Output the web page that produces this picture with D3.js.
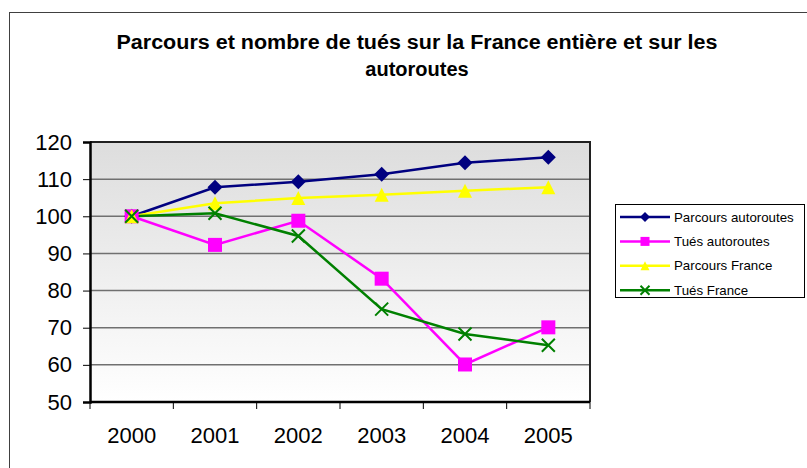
<!DOCTYPE html>
<html>
<head>
<meta charset="utf-8">
<script src="https://cdn.jsdelivr.net/npm/d3@7/dist/d3.min.js"></script>
<style>
  body { margin: 0; background: #fff; }
  svg { display: block; font-family: "Liberation Sans", Arial, sans-serif; }
</style>
</head>
<body>
<div id="container"></div>
<script>
// data
let years = ["2000", "2001", "2002", "2003", "2004", "2005"];
let parcoursAutoroutes = [100, 107.8, 109.3, 111.3, 114.4, 115.9];
let tuesAutoroutes = [100, 92.3, 98.8, 83.2, 60.1, 70.1];
let parcoursFrance = [100, 103.5, 104.9, 105.8, 106.9, 107.8];
let tuesFrance = [100, 100.8, 94.7, 75, 68.3, 65.3];
let yTicks = [50, 60, 70, 80, 90, 100, 110, 120];
let seriesNames = ["Parcours autoroutes", "Tués autoroutes", "Parcours France", "Tués France"];

let w = 807;
let h = 468;
let plotLeft = 90, plotRight = 590, plotTop = 142, plotBottom = 402;

let series = [
  {name: seriesNames[0], values: parcoursAutoroutes, color: "#000080", symbol: "diamond"},
  {name: seriesNames[1], values: tuesAutoroutes, color: "#ff00ff", symbol: "square"},
  {name: seriesNames[2], values: parcoursFrance, color: "#ffff00", symbol: "triangle"},
  {name: seriesNames[3], values: tuesFrance, color: "#008000", symbol: "cross"}
];

let viz = d3.select("#container")
  .append("svg")
    .attr("width", w)
    .attr("height", h)
;

// outer chart frame (only top/left edges visible)
viz.append("rect")
  .attr("x", 9.5).attr("y", 12.5)
  .attr("width", w + 20).attr("height", h + 20)
  .attr("fill", "none").attr("stroke", "#404040").attr("stroke-width", 1);

// title
let title = viz.append("text")
  .attr("text-anchor", "middle")
  .attr("font-weight", "bold")
  .attr("font-size", 20)
  .attr("fill", "#000");
title.append("tspan").attr("x", 417).attr("y", 49).attr("textLength", 601).attr("lengthAdjust", "spacingAndGlyphs")
  .text("Parcours et nombre de tués sur la France entière et sur les");
title.append("tspan").attr("x", 417).attr("y", 76).text("autoroutes");

let xScale = d3.scaleBand()
  .domain(years)
  .range([plotLeft, plotRight]);

let yScale = d3.scaleLinear()
  .domain([50, 120])
  .range([plotBottom, plotTop]);

// plot background gradient
let defs = viz.append("defs");
let grad = defs.append("linearGradient").attr("id", "bg").attr("x1", 0).attr("y1", 0).attr("x2", 0).attr("y2", 1);
grad.append("stop").attr("offset", "0%").attr("stop-color", "#dddddd");
grad.append("stop").attr("offset", "100%").attr("stop-color", "#ffffff");

viz.append("rect")
  .attr("x", plotLeft).attr("y", plotTop)
  .attr("width", plotRight - plotLeft).attr("height", plotBottom - plotTop)
  .attr("fill", "url(#bg)");

// gridlines
viz.append("g").selectAll("line")
  .data(yTicks.slice(1, -1))
  .enter().append("line")
    .attr("x1", plotLeft).attr("x2", plotRight)
    .attr("y1", d => yScale(d)).attr("y2", d => yScale(d))
    .attr("stroke", "#707070").attr("stroke-width", 1.5);

// top and right border
viz.append("path")
  .attr("d", "M" + plotLeft + "," + plotTop + "H" + plotRight + "V" + plotBottom)
  .attr("fill", "none").attr("stroke", "#202020").attr("stroke-width", 2);

// y axis
let yAxis = d3.axisLeft(yScale).tickValues(yTicks).tickSize(7).tickPadding(11);
let yAxisGroup = viz.append("g").attr("transform", "translate(" + plotLeft + ",0)").call(yAxis);
yAxisGroup.select(".domain").attr("stroke-width", 2.5);
yAxisGroup.selectAll("text").attr("font-size", 22).attr("font-family", "Liberation Sans, Arial, sans-serif").attr("fill", "#000");

// x axis: ticks at band boundaries
let xAxisGroup = viz.append("g").attr("transform", "translate(0," + plotBottom + ")");
xAxisGroup.append("line").attr("x1", plotLeft).attr("x2", plotRight).attr("stroke", "#000").attr("stroke-width", 2.5);
xAxisGroup.selectAll(".tk")
  .data(years.concat(["end"]))
  .enter().append("line")
    .attr("x1", (d, i) => plotLeft + i * xScale.bandwidth())
    .attr("x2", (d, i) => plotLeft + i * xScale.bandwidth())
    .attr("y1", 0).attr("y2", 7)
    .attr("stroke", "#000").attr("stroke-width", 1);
xAxisGroup.selectAll(".lbl")
  .data(years)
  .enter().append("text")
    .attr("x", d => xScale(d) + xScale.bandwidth() / 2)
    .attr("y", 41)
    .attr("text-anchor", "middle")
    .attr("font-size", 22)
    .text(d => d);

// lines
let line = d3.line()
  .x((d, i) => xScale(years[i]) + xScale.bandwidth() / 2)
  .y(d => yScale(d));

function drawSymbol(g, type, color, s) {
  if (type == "diamond") {
    g.append("path").attr("d", "M0," + (-s) + "L" + s + ",0L0," + s + "L" + (-s) + ",0Z").attr("fill", color);
  } else if (type == "square") {
    g.append("rect").attr("x", -s).attr("y", -s).attr("width", 2 * s).attr("height", 2 * s).attr("fill", color);
  } else if (type == "triangle") {
    g.append("path").attr("d", "M0," + (-s) + "L" + s + "," + s + "L" + (-s) + "," + s + "Z").attr("fill", color);
  } else {
    g.append("path").attr("d", "M" + (-s) + "," + (-s) + "L" + s + "," + s + "M" + (-s) + "," + s + "L" + s + "," + (-s))
      .attr("stroke", color).attr("stroke-width", 2).attr("fill", "none");
  }
}

series.forEach(function(s) {
  viz.append("path")
    .datum(s.values)
    .attr("d", line)
    .attr("fill", "none")
    .attr("stroke", s.color)
    .attr("stroke-width", 2.5);
});
series.forEach(function(s) {
  let size = s.symbol == "diamond" ? 7.5 : (s.symbol == "cross" ? 6.5 : 7);
  s.values.forEach(function(v, i) {
    let g = viz.append("g")
      .attr("transform", "translate(" + (xScale(years[i]) + xScale.bandwidth() / 2) + "," + yScale(v) + ")");
    drawSymbol(g, s.symbol, s.color, size);
  });
});

// legend
let legend = viz.append("g");
legend.append("rect")
  .attr("x", 615.5).attr("y", 204.5).attr("width", 189).attr("height", 93)
  .attr("fill", "#fff").attr("stroke", "#000").attr("stroke-width", 1);
series.forEach(function(s, i) {
  let y = 217 + i * 24.4;
  legend.append("line").attr("x1", 620).attr("x2", 670).attr("y1", y).attr("y2", y)
    .attr("stroke", s.color).attr("stroke-width", 2.5);
  let g = legend.append("g").attr("transform", "translate(645," + y + ")");
  drawSymbol(g, s.symbol, s.color, s.symbol == "diamond" ? 5 : 4.5);
  legend.append("text").attr("x", 674).attr("y", y + 4.5).attr("font-size", 13.3).text(s.name);
});
</script>
</body>
</html>
